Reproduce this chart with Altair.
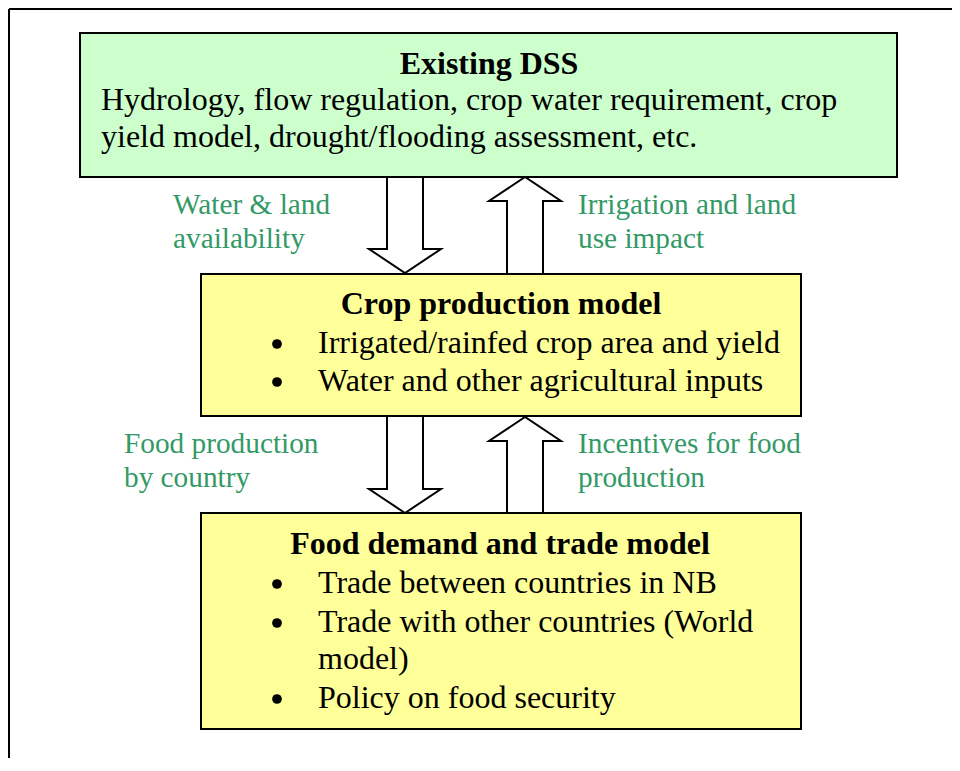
import altair as alt
import pandas as pd

# ---- boxes (page pixel coordinates) ----
box_names = ["Existing DSS", "Crop production model", "Food demand and trade model"]
box_x0 = [80, 201, 201]
box_x1 = [897, 801, 801]
box_y0 = [33, 274, 513]
box_y1 = [177, 416, 729]
box_fill = ["#CCFFCC", "#FFFF99", "#FFFF99"]

# ---- block arrows ----
arrow_id = ["a1", "a2", "a3", "a4"]
arrow_dir = ["down", "up", "down", "up"]
arrow_cx = [405, 525, 405, 525]
arrow_top = [177, 177, 417, 417]
arrow_bottom = [273, 273, 513, 513]
shaft_half = 18
head_half = 36
head_len = 24

# ---- titles ----
title_x = [489, 501, 500]
title_y = [74, 314, 554]

# ---- body lines ----
body_text = [
    "Hydrology, flow regulation, crop water requirement, crop",
    "yield model, drought/flooding assessment, etc.",
    "Irrigated/rainfed crop area and yield",
    "Water and other agricultural inputs",
    "Trade between countries in NB",
    "Trade with other countries (World",
    "model)",
    "Policy on food security",
]
body_x = [101, 101, 318, 318, 318, 318, 318, 318]
body_y = [110, 147, 353, 391, 593, 632, 669, 708]

bullet_x = [277, 277, 277, 277, 277]
bullet_y = [344, 382, 584, 623, 699]

# ---- green flow labels ----
label_text = ["Water & land", "availability", "Irrigation and land", "use impact",
              "Food production", "by country", "Incentives for food", "production"]
label_x = [173, 173, 578, 578, 124, 124, 578, 578]
label_y = [214, 248, 214, 248, 453, 487, 453, 487]

# ---- outer frame (top and left edges visible) ----
frame_x = [9, 952, 9, 9]
frame_y = [9, 9, 9, 758]
frame_id = ["top", "top", "left", "left"]

X = alt.Scale(domain=[8, 952])
Y = alt.Scale(domain=[758, 8])

boxes = pd.DataFrame({"name": box_names, "x0": box_x0, "x1": box_x1,
                      "y0": box_y0, "y1": box_y1})

rows = []
for aid, d, cx, top, bot in zip(arrow_id, arrow_dir, arrow_cx, arrow_top, arrow_bottom):
    if d == "down":
        pts = [(cx - shaft_half, top), (cx - shaft_half, bot - head_len),
               (cx - head_half, bot - head_len), (cx, bot),
               (cx + head_half, bot - head_len), (cx + shaft_half, bot - head_len),
               (cx + shaft_half, top)]
    else:
        pts = [(cx - shaft_half, bot), (cx - shaft_half, top + head_len),
               (cx - head_half, top + head_len), (cx, top),
               (cx + head_half, top + head_len), (cx + shaft_half, top + head_len),
               (cx + shaft_half, bot)]
    for i, (px, py) in enumerate(pts):
        rows.append({"arrow": aid, "order": i, "x": px, "y": py})
arrows = pd.DataFrame(rows)

frame = alt.Chart(pd.DataFrame({"id": frame_id, "x": frame_x, "y": frame_y})).mark_line(
    color="black", strokeWidth=2).encode(
    x=alt.X("x:Q", scale=X, axis=None), y=alt.Y("y:Q", scale=Y, axis=None), detail="id:N")

rect = alt.Chart(boxes).mark_rect(stroke="black", strokeWidth=2).encode(
    x=alt.X("x0:Q", scale=X, axis=None), x2="x1",
    y=alt.Y("y0:Q", scale=Y, axis=None), y2="y1",
    fill=alt.Fill("name:N", scale=alt.Scale(domain=box_names, range=box_fill), legend=None),
)

arrow_layer = alt.Chart(arrows).mark_line(color="black", strokeWidth=2, strokeJoin="miter").encode(
    x=alt.X("x:Q", scale=X, axis=None), y=alt.Y("y:Q", scale=Y, axis=None),
    order="order:Q", detail="arrow:N")

font = "Liberation Serif"

titles = alt.Chart(pd.DataFrame({"t": box_names, "x": title_x, "y": title_y})).mark_text(
    font=font, fontSize=32, fontWeight="bold", align="center", baseline="alphabetic", color="black"
).encode(x=alt.X("x:Q", scale=X, axis=None), y=alt.Y("y:Q", scale=Y, axis=None), text="t:N")

body = alt.Chart(pd.DataFrame({"t": body_text, "x": body_x, "y": body_y})).mark_text(
    font=font, fontSize=32, align="left", baseline="alphabetic", color="black"
).encode(x=alt.X("x:Q", scale=X, axis=None), y=alt.Y("y:Q", scale=Y, axis=None), text="t:N")

bullets = alt.Chart(pd.DataFrame({"x": bullet_x, "y": bullet_y})).mark_point(
    shape="circle", filled=True, size=95, color="black", opacity=1
).encode(x=alt.X("x:Q", scale=X, axis=None), y=alt.Y("y:Q", scale=Y, axis=None))

labels = alt.Chart(pd.DataFrame({"t": label_text, "x": label_x, "y": label_y})).mark_text(
    font=font, fontSize=29.3, align="left", baseline="alphabetic", color="#339966"
).encode(x=alt.X("x:Q", scale=X, axis=None), y=alt.Y("y:Q", scale=Y, axis=None), text="t:N")

chart = alt.layer(frame, rect, arrow_layer, titles, body, bullets, labels).properties(
    width=944, height=750, padding=0, autosize=alt.AutoSizeParams(type="none"),
    background="white",
).configure_view(stroke=None)

chart.save("out.html", embed_options={"renderer": "svg", "actions": False})
